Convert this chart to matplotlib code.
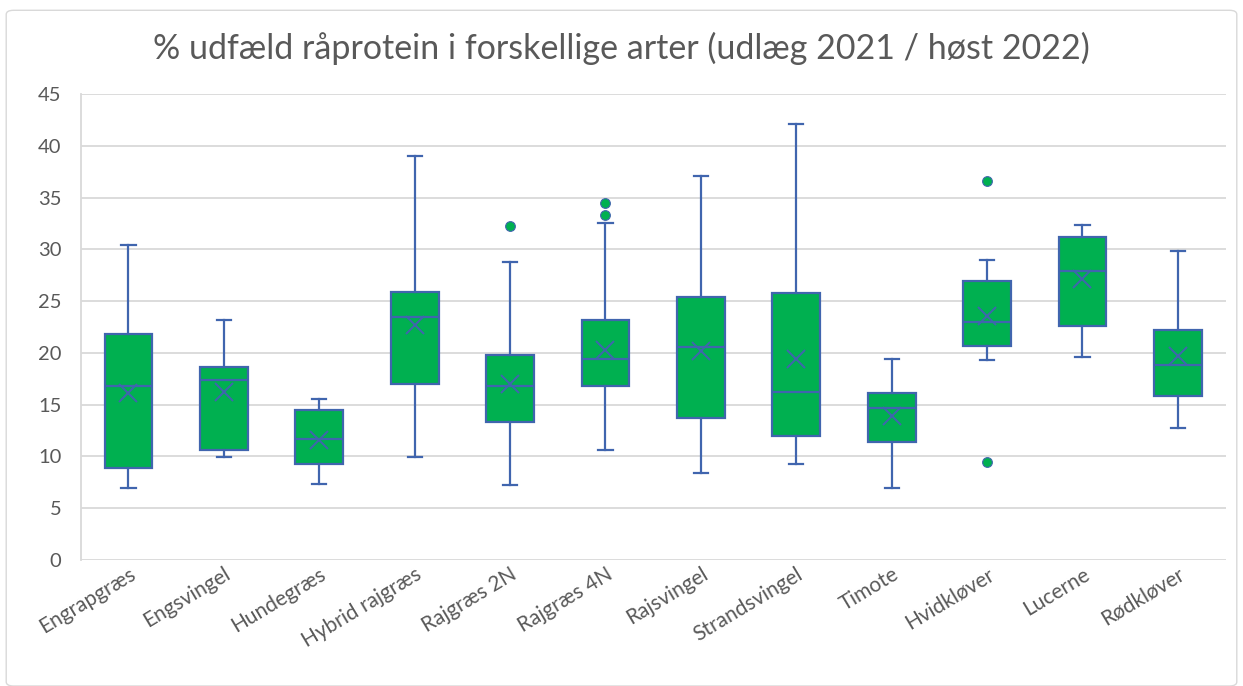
import matplotlib.pyplot as plt
from matplotlib.patches import FancyBboxPatch

plt.rcParams['font.family'] = ['Lato', 'DejaVu Sans']

# Data
arter = ["Engrapgræs", "Engsvingel", "Hundegræs", "Hybrid rajgræs", "Rajgræs 2N",
         "Rajgræs 4N", "Rajsvingel", "Strandsvingel", "Timote", "Hvidkløver",
         "Lucerne", "Rødkløver"]
whisker_lo = [6.9, 9.9, 7.35, 9.9, 7.2, 10.6, 8.35, 9.26, 6.94, 19.3, 19.65, 12.7]
q1 = [8.9, 10.6, 9.3, 16.97, 13.3, 16.8, 13.7, 12.0, 11.35, 20.7, 22.6, 15.8]
median = [16.8, 17.4, 11.7, 23.45, 16.8, 19.45, 20.6, 16.2, 14.65, 23.0, 27.9, 18.8]
q3 = [21.8, 18.6, 14.5, 25.9, 19.8, 23.2, 25.45, 25.8, 16.1, 27.0, 31.2, 22.2]
whisker_hi = [30.45, 23.2, 15.55, 39.0, 28.8, 32.6, 37.1, 42.1, 19.4, 28.97, 32.35, 29.9]
mean = [16.1, 16.2, 11.6, 22.7, 17.0, 20.3, 20.2, 19.4, 13.9, 23.6, 27.1, 19.7]
outliers = [[], [], [], [], [32.3], [34.5, 33.3], [], [], [], [36.6, 9.5], [], []]

blue = "#4065AE"
green = "#00B050"
grey_text = "#595959"

stats = []
for i in range(len(arter)):
    stats.append({
        "whislo": whisker_lo[i], "q1": q1[i], "med": median[i], "q3": q3[i],
        "whishi": whisker_hi[i], "mean": mean[i], "fliers": outliers[i],
        "label": arter[i],
    })

fig = plt.figure(figsize=(12.43, 6.86), dpi=100)
ax = fig.add_axes([0.065, 0.184, 0.921, 0.6785])

# Outer chart border
fig.patches.append(FancyBboxPatch((0.005, 0.0), 0.99, 0.985, boxstyle="round,pad=0,rounding_size=0.006",
                                  transform=fig.transFigure, fill=False, edgecolor="#D9D9D9", lw=1))

ax.bxp(stats, positions=range(len(arter)), widths=0.5, patch_artist=True, showmeans=True,
       boxprops=dict(facecolor=green, edgecolor=blue, lw=1.6),
       medianprops=dict(color=blue, lw=1.6),
       whiskerprops=dict(color=blue, lw=1.6),
       capprops=dict(color=blue, lw=1.6),
       capwidths=0.15,
       meanprops=dict(marker="x", markeredgecolor=blue, markersize=13, markeredgewidth=1.4),
       flierprops=dict(marker="o", markerfacecolor=green, markeredgecolor=blue,
                       markersize=7, markeredgewidth=0.8))

ax.set_xlim(-0.5, len(arter) - 0.5)
ax.set_ylim(0, 45)
ax.set_yticks(range(0, 46, 5))
ax.yaxis.grid(True, color="#D9D9D9", lw=1.3)
ax.set_axisbelow(True)
for side in ["top", "right", "bottom"]:
    ax.spines[side].set_visible(False)
ax.spines["left"].set_color("#D9D9D9")
ax.spines["left"].set_linewidth(1.3)
ax.tick_params(axis="both", length=0, colors=grey_text, labelsize=14.5)
ax.tick_params(axis="y", pad=14)
ax.set_xticks(range(len(arter)))
ax.set_xticklabels(arter, rotation=31, ha="right", rotation_mode="anchor", fontsize=15)
ax.tick_params(axis="x", pad=3)

fig.text(0.5, 0.93, "% udfæld råprotein i forskellige arter (udlæg 2021 / høst 2022)",
         ha="center", va="center", fontsize=24.5, color=grey_text)

fig.savefig("out.png", dpi=100)
